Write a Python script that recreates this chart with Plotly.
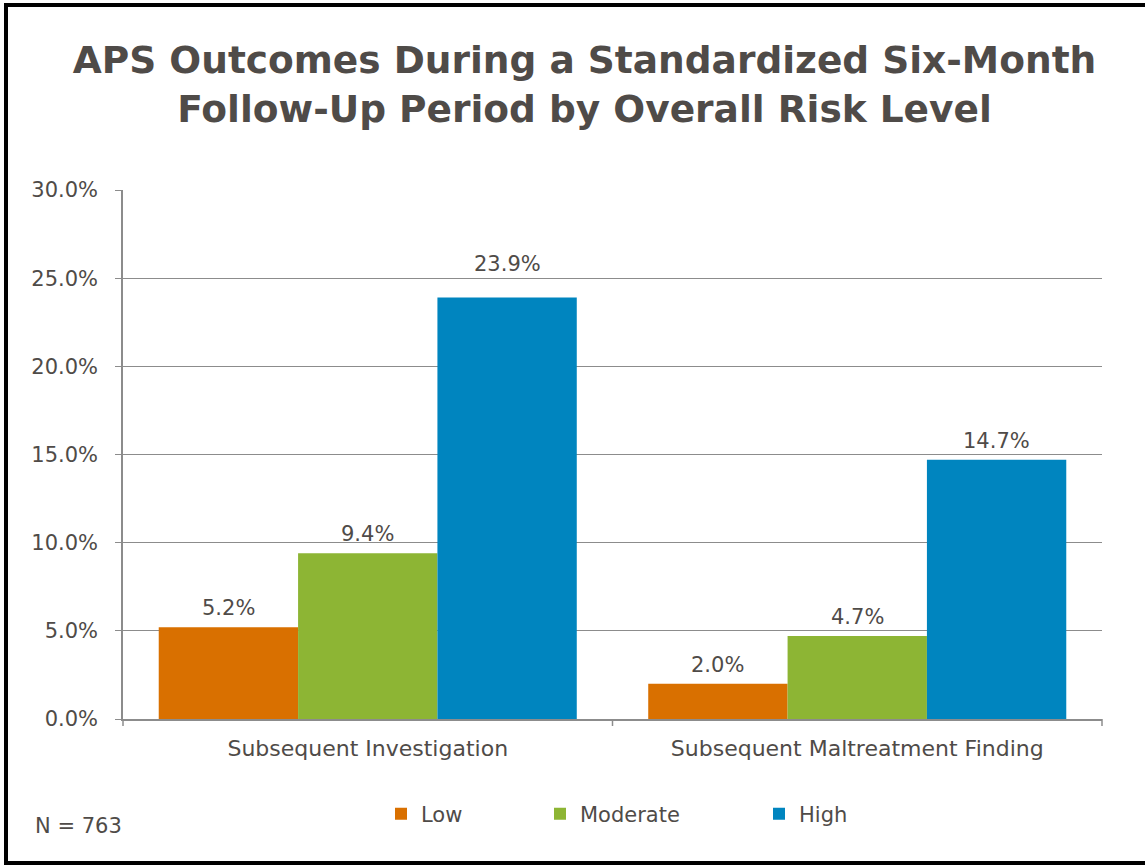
import plotly.graph_objects as go

categories = ["Subsequent Investigation", "Subsequent Maltreatment Finding"]
series_names = ["Low", "Moderate", "High"]
low_vals = [5.2, 2.0]
moderate_vals = [9.4, 4.7]
high_vals = [23.9, 14.7]
colors = ["#D97000", "#8DB534", "#0085BF"]
y_ticks = [0, 5, 10, 15, 20, 25, 30]
y_tick_labels = ["0.0%", "5.0%", "10.0%", "15.0%", "20.0%", "25.0%", "30.0%"]
title_text = "APS Outcomes During a Standardized Six-Month<br>Follow-Up Period by Overall Risk Level"
note_text = "N = 763"

W, H = 1145, 865
L, R, T, B = 123, 1102, 190, 719
TXT = "#4f4b48"
GRID = "#8c8c8c"
FONT = "DejaVu Sans"
BARGAP = 0.146
legend_ids = ["legend", "legend2", "legend3"]
legend_px = [381, 540, 759]

fig = go.Figure()
all_vals = [low_vals, moderate_vals, high_vals]
for name, vals, col, lg in zip(series_names, all_vals, colors, legend_ids):
    fig.add_trace(go.Bar(
        name=name, x=categories, y=vals, marker_color=col, marker_line_width=0,
        legend=lg,
    ))

# value labels above bars (the tallest one is lifted above the 25% gridline as in the source)
bar_px = (R - L) / len(categories) * (1 - BARGAP) / len(series_names)
for si, vals in enumerate(all_vals):
    for ci, v in enumerate(vals):
        lift = 34 if (si == 2 and ci == 0) else 19
        fig.add_annotation(
            x=categories[ci], y=v, xref="x", yref="y",
            xshift=(si - 1) * bar_px, yshift=lift,
            text=f"{v:.1f}%", showarrow=False, xanchor="center", yanchor="middle",
            font=dict(size=21, color=TXT, family=FONT),
        )

def px_x(p):
    return (p - L) / (R - L)

def px_y(p):
    return (B - p) / (B - T)

legend_style = dict(orientation="h", xanchor="left", y=px_y(814), yanchor="middle",
                    font=dict(size=21, color=TXT, family=FONT), itemwidth=30,
                    itemsizing="constant", bgcolor="rgba(0,0,0,0)")

fig.update_layout(
    width=W, height=H,
    margin=dict(l=L, r=W - R, t=T, b=H - B, pad=0),
    paper_bgcolor="white", plot_bgcolor="white",
    barmode="group", bargap=BARGAP, bargroupgap=0,
    font=dict(family=FONT, color=TXT, size=21),
    title=dict(text=title_text, x=584.5 / W, xanchor="center", y=1 - 73 / H, yanchor="middle",
               font=dict(family=FONT, size=37.5, color=TXT, weight="bold")),
    showlegend=True,
    xaxis=dict(showgrid=False, showline=True, linecolor=GRID, linewidth=1.5,
               ticks="outside", ticklen=0, ticklabelstandoff=9,
               tickfont=dict(size=22, color=TXT), fixedrange=True),
    yaxis=dict(range=[0, 30], tickvals=y_ticks, ticktext=y_tick_labels,
               showgrid=True, gridcolor=GRID, gridwidth=1,
               showline=True, linecolor=GRID, linewidth=1.5,
               ticks="outside", ticklen=6, tickcolor=GRID, ticklabelstandoff=13,
               tickfont=dict(size=21, color=TXT), zeroline=False, fixedrange=True),
)
for lg, xp in zip(legend_ids, legend_px):
    fig.update_layout({lg: dict(legend_style, x=px_x(xp))})

# category divider ticks on the x axis
for xp in [L, (L + R) / 2, R]:
    fig.add_shape(type="line", xref="paper", yref="paper",
                  x0=px_x(xp), x1=px_x(xp), y0=0, y1=px_y(B + 7),
                  line=dict(color=GRID, width=1.5))

# outer border (right edge falls outside the picture, as in the source)
fig.add_shape(type="rect", xref="paper", yref="paper",
              x0=px_x(6), x1=px_x(1165), y0=px_y(863), y1=px_y(5),
              line=dict(color="black", width=4), fillcolor="rgba(0,0,0,0)", layer="above")

fig.add_annotation(text=note_text, xref="paper", yref="paper", x=px_x(33), y=px_y(826),
                   xanchor="left", yanchor="middle", showarrow=False,
                   font=dict(size=21, color=TXT, family=FONT))

fig.write_html("out.html")
